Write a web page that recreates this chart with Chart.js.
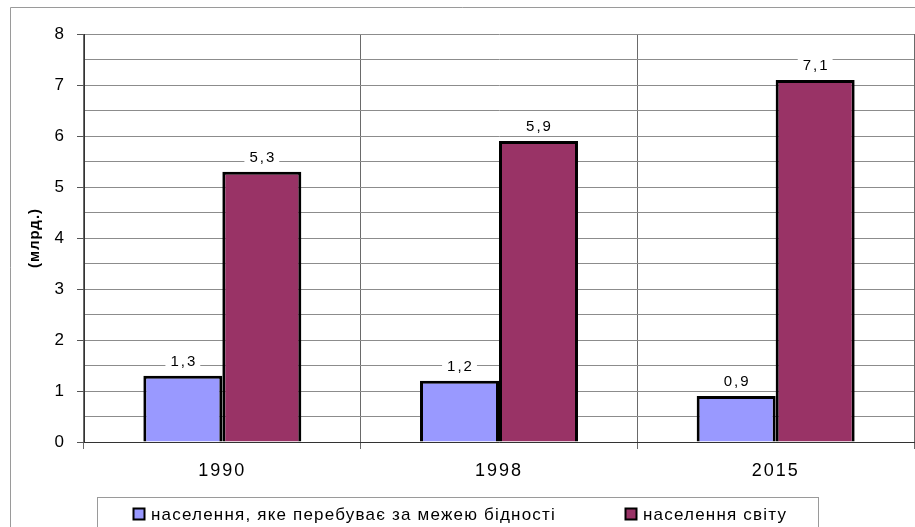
<!DOCTYPE html>
<html>
<head>
<meta charset="utf-8">
<script src="https://cdn.jsdelivr.net/npm/chart.js@4"></script>
<style>
  body { margin: 0; background: #fff; }
  canvas { display: block; }
</style>
</head>
<body>
<canvas id="povertyChart" width="915" height="527"></canvas>
<script>
// years on the x axis
const categories = ['1990', '1998', '2015'];
// billions of people
const poorValues = [1.3, 1.2, 0.9];
const worldValues = [5.3, 5.9, 7.1];
const seriesNames = ['населення, яке перебуває за межею бідності', 'населення світу'];
const seriesColors = ['#9999ff', '#993366'];
const yTitle = '(млрд.)';

const FONT = '"Liberation Sans", Arial, sans-serif';

function fmt(v) {
    return String(v).replace('.', ',');
}

// border, value labels, axis title and the boxed legend
const decorPlugin = {
    id: 'decor',
    beforeDraw(chart) {
        chart.ctx.letterSpacing = '2px';
    },
    afterDraw(chart) {
        const ctx = chart.ctx;
        const area = chart.chartArea;
        ctx.save();

        // outer frame (top and left are visible)
        ctx.strokeStyle = '#9a9a9a';
        ctx.lineWidth = 1;
        ctx.beginPath();
        ctx.moveTo(10.5, 540);
        ctx.lineTo(10.5, 7.5);
        ctx.lineTo(915, 7.5);
        ctx.stroke();

        // value labels on a white patch
        ctx.font = '15px ' + FONT;
        ctx.letterSpacing = '2px';
        ctx.textAlign = 'center';
        ctx.textBaseline = 'middle';
        chart.data.datasets.forEach((ds, i) => {
            chart.getDatasetMeta(i).data.forEach((bar, j) => {
                const txt = fmt(ds.data[j]);
                const w = ctx.measureText(txt).width + 8;
                const y = bar.y - 15;
                ctx.fillStyle = '#fff';
                ctx.fillRect(bar.x - w / 2, y - 9, w, 18);
                ctx.fillStyle = '#000';
                ctx.fillText(txt, bar.x + 1, y + 1);
            });
        });

        // y axis title
        ctx.save();
        ctx.translate(35, (area.top + area.bottom) / 2);
        ctx.rotate(-Math.PI / 2);
        ctx.font = 'bold 15px ' + FONT;
        ctx.letterSpacing = '1px';
        ctx.fillStyle = '#000';
        ctx.fillText(yTitle, 0, 0);
        ctx.restore();

        // legend box
        ctx.strokeStyle = '#9a9a9a';
        ctx.lineWidth = 1;
        ctx.strokeRect(97.5, 497.5, 721, 40);
        const itemX = [133, 625];
        ctx.font = '17px ' + FONT;
        ctx.letterSpacing = '1.2px';
        ctx.textAlign = 'left';
        chart.data.datasets.forEach((ds, i) => {
            const x = itemX[i];
            ctx.fillStyle = ds.backgroundColor;
            ctx.fillRect(x, 508, 11, 11);
            ctx.strokeStyle = '#000';
            ctx.lineWidth = 2;
            ctx.strokeRect(x + 0.5, 508.5, 11, 11);
            ctx.fillStyle = '#000';
            ctx.fillText(ds.label, x + 18, 515);
        });
        ctx.restore();
        ctx.letterSpacing = '0px';
    }
};

new Chart('povertyChart', {
    type: 'bar',
    data: {
        labels: categories,
        datasets: [{
            label: seriesNames[0],
            data: poorValues,
            backgroundColor: seriesColors[0],
            borderColor: '#000',
            borderWidth: 3
        }, {
            label: seriesNames[1],
            data: worldValues,
            backgroundColor: seriesColors[1],
            borderColor: '#000',
            borderWidth: 3
        }]
    },
    options: {
        responsive: false,
        animation: false,
        devicePixelRatio: 1,
        layout: { padding: { left: 10, top: 34, right: 1, bottom: 0 } },
        datasets: {
            bar: { categoryPercentage: 0.571, barPercentage: 1 }
        },
        plugins: {
            legend: { display: false },
            tooltip: { enabled: false }
        },
        scales: {
            x: {
                grid: { offset: true, color: '#6a6a6a', tickColor: '#6a6a6a', tickLength: 7 },
                border: { color: '#333' },
                ticks: { color: '#000', font: { size: 18, family: FONT }, padding: 11 },
                afterFit(s) { s.height = 85; }
            },
            y: {
                min: 0,
                max: 8,
                grid: {
                    color: '#8c8c8c',
                    tickLength: 7,
                    tickColor: c => Number.isInteger(c.tick.value) ? '#555' : 'rgba(0,0,0,0)'
                },
                border: { color: '#333' },
                ticks: {
                    stepSize: 0.5,
                    color: '#000',
                    font: { size: 17, family: FONT },
                    padding: 11,
                    callback: v => Number.isInteger(v) ? v : ''
                },
                afterFit(s) { s.width = 74; }
            }
        }
    },
    plugins: [decorPlugin]
});
</script>
</body>
</html>
